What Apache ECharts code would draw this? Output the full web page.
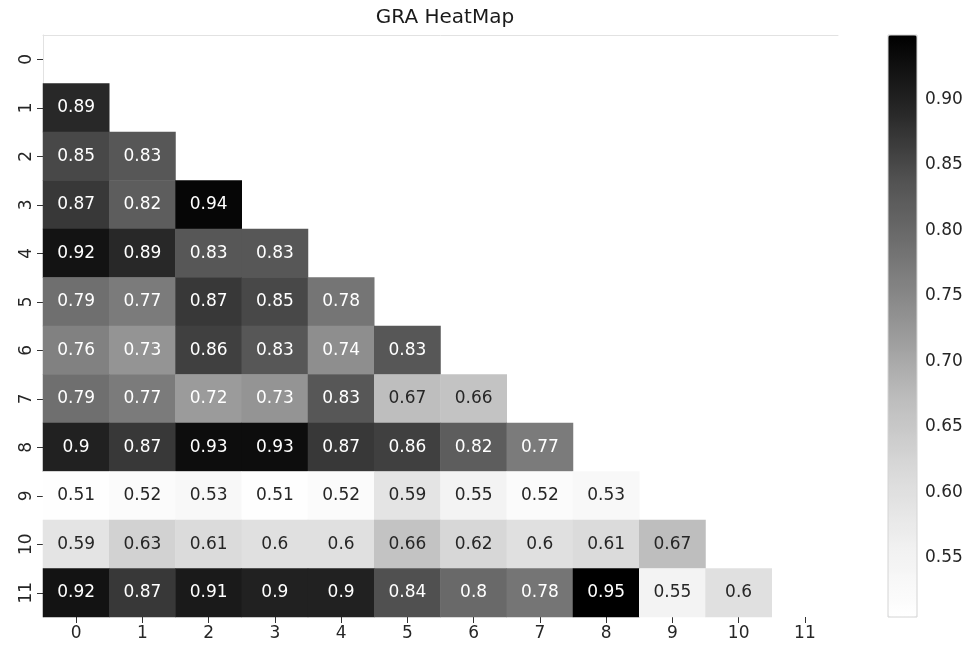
<!DOCTYPE html>
<html>
<head>
<meta charset="utf-8">
<script src="https://cdn.jsdelivr.net/npm/echarts@6/dist/echarts.min.js"></script>
<style>
  html, body { margin: 0; padding: 0; background: #fff; }
  #main { width: 971px; height: 648px; }
</style>
</head>
<body>
<div id="main"></div>
<script>
// axis categories (same for rows and columns)
var labels = ['0', '1', '2', '3', '4', '5', '6', '7', '8', '9', '10', '11'];

// lower triangle of the GRA matrix, row by row (row 0 is empty)
var row1  = [0.89];
var row2  = [0.85, 0.83];
var row3  = [0.87, 0.82, 0.94];
var row4  = [0.92, 0.89, 0.83, 0.83];
var row5  = [0.79, 0.77, 0.87, 0.85, 0.78];
var row6  = [0.76, 0.73, 0.86, 0.83, 0.74, 0.83];
var row7  = [0.79, 0.77, 0.72, 0.73, 0.83, 0.67, 0.66];
var row8  = [0.9, 0.87, 0.93, 0.93, 0.87, 0.86, 0.82, 0.77];
var row9  = [0.51, 0.52, 0.53, 0.51, 0.52, 0.59, 0.55, 0.52, 0.53];
var row10 = [0.59, 0.63, 0.61, 0.6, 0.6, 0.66, 0.62, 0.6, 0.61, 0.67];
var row11 = [0.92, 0.87, 0.91, 0.9, 0.9, 0.84, 0.8, 0.78, 0.95, 0.55, 0.6];

var colorbarTicks = [0.55, 0.6, 0.65, 0.7, 0.75, 0.8, 0.85, 0.9];

var rows = [[], row1, row2, row3, row4, row5, row6, row7, row8, row9, row10, row11];

var cells = [];
rows.forEach(function (r, y) {
    r.forEach(function (v, x) {
        cells.push({
            value: [x, y, v],
            label: { color: v >= 0.7 ? '#ffffff' : '#262626' }
        });
    });
});

var font = 'DejaVu Sans';
var myChart = echarts.init(document.getElementById('main'));

var option = {
    backgroundColor: '#ffffff',
    animation: false,
    textStyle: { fontFamily: font },
    title: {
        text: 'GRA HeatMap',
        left: 440,
        textAlign: 'center',
        top: 3,
        textStyle: { fontFamily: font, fontSize: 20, fontWeight: 'normal', color: '#1a1a1a' }
    },
    grid: [
        { left: 43, top: 35, width: 795, height: 582 },
        // colorbar frame, drawn over the visualMap bar
        { left: 888, top: 35, width: 29, height: 582, show: true, z: 10,
          backgroundColor: 'transparent', borderColor: '#d4d4d4', borderWidth: 1 }
    ],
    xAxis: [{
        type: 'category',
        gridIndex: 0,
        data: labels,
        position: 'bottom',
        axisLine: { show: false },
        axisTick: { show: true, alignWithLabel: true, length: 6, lineStyle: { color: '#333' } },
        axisLabel: { fontSize: 17, color: '#262626', margin: 8, fontFamily: font },
        splitLine: { show: false }
    }, {
        type: 'category',
        gridIndex: 0,
        data: labels,
        position: 'top',
        axisLine: { show: true, lineStyle: { color: '#e2e2e2', width: 1 } },
        axisTick: { show: false },
        axisLabel: { show: false }
    }, {
        type: 'value',
        gridIndex: 1,
        min: 0, max: 1,
        show: false
    }],
    yAxis: [{
        type: 'category',
        gridIndex: 0,
        data: labels,
        inverse: true,
        axisLine: { show: true, lineStyle: { color: '#e2e2e2', width: 1 } },
        axisTick: { show: true, alignWithLabel: true, length: 6, lineStyle: { color: '#333' } },
        axisLabel: { fontSize: 17, color: '#262626', margin: 8, rotate: 90, fontFamily: font },
        splitLine: { show: false }
    }, {
        type: 'value',
        gridIndex: 1,
        position: 'right',
        min: 0.505,
        max: 0.949,
        axisLine: { show: false },
        axisTick: { show: true, length: 6, lineStyle: { color: '#333' }, customValues: colorbarTicks },
        axisLabel: {
            fontSize: 17, color: '#262626', margin: 8, fontFamily: font,
            customValues: colorbarTicks,
            formatter: function (v) { return v.toFixed(2); }
        },
        splitLine: { show: false }
    }],
    visualMap: {
        type: 'continuous',
        min: 0.505,
        max: 0.949,
        seriesIndex: 0,
        calculable: false,
        orient: 'vertical',
        left: 888,
        top: 35,
        padding: 0,
        itemWidth: 29,
        itemHeight: 582,
        text: null,
        showLabel: false,
        hoverLink: false,
        inRange: {
            color: ['#ffffff', '#f0f0f0', '#d9d9d9', '#bdbdbd', '#969696', '#737373', '#525252', '#252525', '#000000']
        }
    },
    series: [{
        type: 'heatmap',
        xAxisIndex: 0,
        yAxisIndex: 0,
        data: cells,
        label: {
            show: true,
            fontSize: 17,
            fontFamily: font
        },
        itemStyle: { borderWidth: 0 },
        emphasis: { disabled: true }
    }]
};

myChart.setOption(option);
</script>
</body>
</html>
